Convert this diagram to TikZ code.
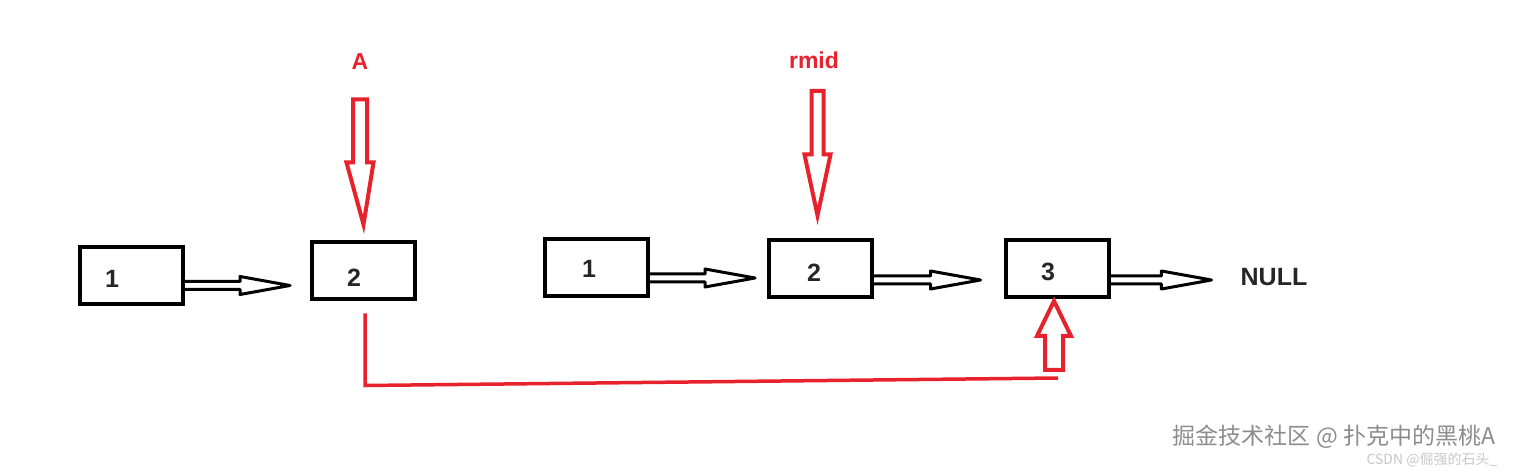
\documentclass[tikz,border=0pt]{standalone}
\usepackage{fontspec}
\setmainfont{Liberation Sans}
\newfontfamily\cjkfont{Noto Sans CJK SC}
\usepackage{xcolor}
\usetikzlibrary{calc, positioning}
\definecolor{markred}{HTML}{E8222D}
\definecolor{wmgray}{HTML}{8C8C8C}

% hollow arrow pointing right, shaft open at the box
\newcommand{\hollowright}[2]{%
  \draw[hollowblack] let \p1=(#1), \p2=(#2) in
    (\x1,\y1+4pt) -- (\x2-50pt,\y1+4pt) -- (\x2-50pt,\y1+9pt) -- (\x2,\y1)
    -- (\x2-50pt,\y1-9pt) -- (\x2-50pt,\y1-4pt) -- (\x1,\y1-4pt);}
% hollow vertical arrow: from, tip, shaft half, head half, head length
\newcommand{\hollowvert}[5]{%
  \draw[hollowred] let \p1=(#1), \p2=(#2) in
    (\x1-#3,\y1) -- (\x1+#3,\y1) -- (\x1+#3,\y2+#5) -- (\x1+#4,\y2+#5) -- (\x2,\y2)
    -- (\x1-#4,\y2+#5) -- (\x1-#3,\y2+#5) -- cycle;}

\begin{document}
\begin{tikzpicture}[
    x=1pt, y=1pt,
    box/.style={draw, line width=4pt, minimum width=103pt, minimum height=57pt, inner sep=0pt},
    every label/.style={font=\bfseries\fontsize{25}{25}\selectfont, text=black!85},
    tag/.style={font=\bfseries\fontsize{23}{23}\selectfont, text=markred},
    hollowblack/.style={line width=3pt, line join=round},
    hollowred/.style={line width=4pt, draw=markred, line join=miter}
]
\useasboundingbox (0,0) rectangle (1527,469);

% left list
\node (l1) [box, label={[xshift=-19.5pt, yshift=-3.5pt]center:1}] at (131.5,193.5) {};
\node (l2) [box, label={[xshift=-9.5pt, yshift=-7pt]center:2}] at (363.5,198) {};

% right list
\node (r1) [box, label={[xshift=-7pt, yshift=-1.5pt]center:1}] at (596,201.5) {};
\node (r2) [box, label={[xshift=-6.5pt, yshift=-4pt]center:2}] at (820.5,200) {};
\node (r3) [box, label={[xshift=-9pt, yshift=-3.5pt]center:3}] at (1057,200.5) {};
\node (null) [font=\bfseries\fontsize{25}{25}\selectfont, text=black!85, inner sep=8pt] at (1274,192) {NULL};

% pointer labels
\node (ptrA) [tag] at (360,407) {A};
\node (ptrmid) [tag] at (814,409) {rmid};

% next links
\hollowright{[yshift=-10pt]l1.east}{[xshift=-20pt]l2.west}
\hollowright{[yshift=-10.5pt]r1.east}{[xshift=-12pt]r2.west}
\hollowright{[yshift=-11pt]r2.east}{[xshift=-23pt]r3.west}
\hollowright{[yshift=-11.5pt]r3.east}{[xshift=-21pt]null.west}

% red pointers
\hollowvert{[yshift=-26pt]ptrA.south}{[yshift=16pt]l2.north}{7pt}{13.5pt}{62pt}
\hollowvert{[xshift=3.5pt, yshift=-19pt]ptrmid.south}{[xshift=-3pt, yshift=23pt]r2.north}{6pt}{13pt}{61pt}

% A points on to node 3
\coordinate (upfoot) at ([xshift=-3pt, yshift=-71pt]r3.south);
\hollowvert{upfoot}{[xshift=-3pt, yshift=-2pt]r3.south}{9pt}{17pt}{-35pt}
\draw[markred, line width=3.5pt] ([xshift=1.5pt, yshift=-12pt]l2.south) -- ++(0,-72pt)
    -- ([xshift=4pt, yshift=-8pt]upfoot);

% watermark
\node (wm) [font=\cjkfont\fontsize{23}{23}\selectfont, text=wmgray] at (1334,32) {掘金技术社区 @ 扑克中的黑桃A};
\node (wm2) [font=\cjkfont\fontsize{14}{14}\selectfont, text=black!22] at (1432,9) {CSDN @倔强的石头\_};
\end{tikzpicture}
\end{document}
